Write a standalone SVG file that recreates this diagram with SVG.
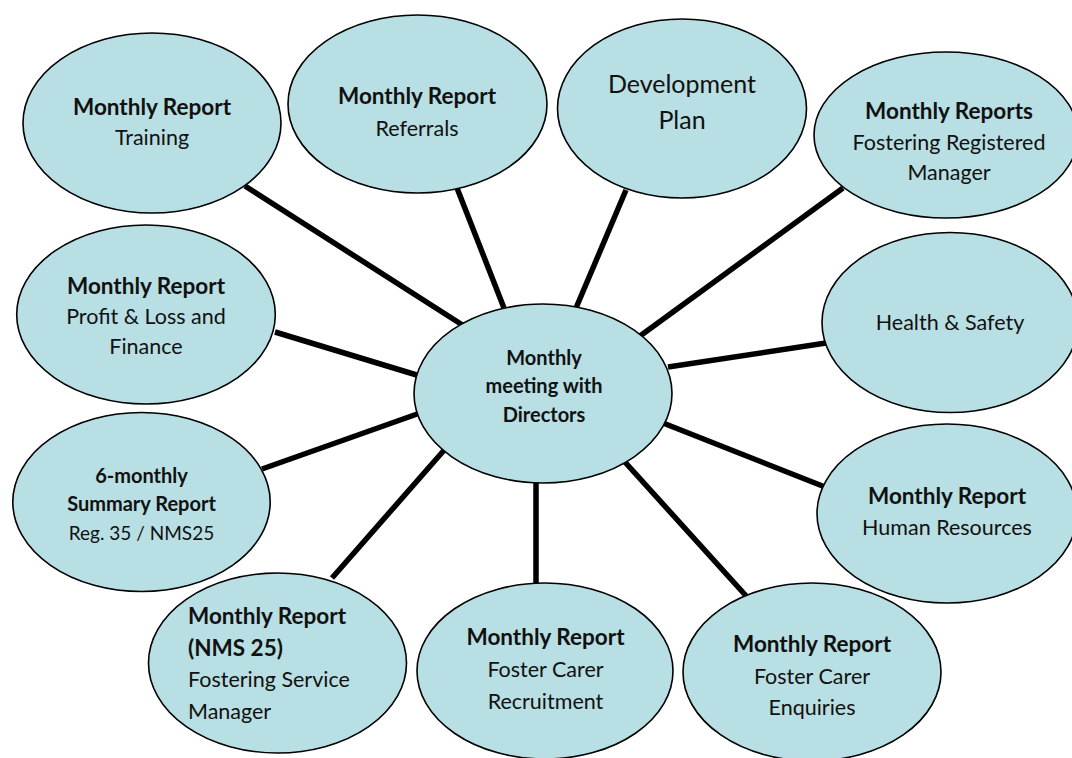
<svg xmlns="http://www.w3.org/2000/svg" width="1072" height="758" viewBox="0 0 1072 758">
<style>
.n{fill:#b8dfe3;stroke:#000;stroke-width:1.6}
.c line{stroke:#000;stroke-width:5.5;stroke-linecap:butt}
text{font-family:Lato,"Liberation Sans",sans-serif;fill:#111;text-anchor:middle}
.r{font-size:21.5px}
.b{font-size:22.5px;font-weight:bold}
.d{font-size:25px}
.m{font-size:20px;font-weight:bold}
.s{font-size:20px;font-weight:bold}
.sr{font-size:19px}
.l{text-anchor:start}
</style>
<rect width="1072" height="758" fill="#fff"/>
<g id="connectors" class="c">
<line x1="245" y1="186" x2="464" y2="326"/>
<line x1="457" y1="188" x2="504" y2="308"/>
<line x1="626" y1="190" x2="576" y2="308"/>
<line x1="843" y1="188" x2="640" y2="336"/>
<line x1="826" y1="343" x2="668" y2="367"/>
<line x1="825" y1="487" x2="663" y2="423"/>
<line x1="748" y1="598" x2="624" y2="461"/>
<line x1="536" y1="480" x2="536" y2="585"/>
<line x1="332" y1="578" x2="446" y2="448"/>
<line x1="262" y1="469" x2="420" y2="413"/>
<line x1="275" y1="332" x2="420" y2="376"/>
</g>
<g id="training">
<ellipse class="n" cx="152" cy="123" rx="129" ry="90"/>
<text class="b" x="152" y="115">Monthly Report</text>
<text class="r" x="152" y="145">Training</text>
</g>
<g id="referrals">
<ellipse class="n" cx="417.5" cy="104" rx="129.5" ry="89"/>
<text class="b" x="417" y="104">Monthly Report</text>
<text class="r" x="417" y="136">Referrals</text>
</g>
<g id="development">
<ellipse class="n" cx="682" cy="108.5" rx="124.5" ry="89.5"/>
<text class="d" x="682" y="93">Development</text>
<text class="d" x="682" y="129">Plan</text>
</g>
<g id="registered-manager">
<ellipse class="n" cx="946" cy="135" rx="132" ry="83"/>
<text class="b" x="949" y="119">Monthly Reports</text>
<text class="r" x="949" y="150">Fostering Registered</text>
<text class="r" x="949" y="180">Manager</text>
</g>
<g id="health-safety">
<ellipse class="n" cx="950" cy="322.5" rx="128" ry="90"/>
<text class="r" x="950" y="330">Health &amp; Safety</text>
</g>
<g id="human-resources">
<ellipse class="n" cx="947" cy="513.5" rx="130" ry="89.5"/>
<text class="b" x="947" y="504">Monthly Report</text>
<text class="r" x="947" y="535">Human Resources</text>
</g>
<g id="enquiries">
<ellipse class="n" cx="812" cy="672" rx="129" ry="89"/>
<text class="b" x="812" y="652">Monthly Report</text>
<text class="r" x="812" y="684">Foster Carer</text>
<text class="r" x="812" y="715">Enquiries</text>
</g>
<g id="recruitment">
<ellipse class="n" cx="545" cy="671" rx="128" ry="88"/>
<text class="b" x="545.5" y="645">Monthly Report</text>
<text class="r" x="545.5" y="677">Foster Carer</text>
<text class="r" x="545.5" y="709">Recruitment</text>
</g>
<g id="service-manager">
<ellipse class="n" cx="277.5" cy="663" rx="129" ry="90"/>
<text class="b l" x="188" y="624">Monthly Report</text>
<text class="b l" x="188" y="656">(NMS 25)</text>
<text class="r l" x="188" y="687">Fostering Service</text>
<text class="r l" x="188" y="719">Manager</text>
</g>
<g id="six-monthly">
<ellipse class="n" cx="141.5" cy="502" rx="128.7" ry="89.5"/>
<text class="s" x="141.5" y="483">6-monthly</text>
<text class="s" x="141.5" y="511">Summary Report</text>
<text class="sr" x="141.5" y="539.5">Reg. 35 / NMS25</text>
</g>
<g id="profit-loss">
<ellipse class="n" cx="146" cy="314.5" rx="129.3" ry="89.5"/>
<text class="b" x="146" y="294">Monthly Report</text>
<text class="r" x="146" y="324">Profit &amp; Loss and</text>
<text class="r" x="146" y="354">Finance</text>
</g>
<g id="directors-meeting">
<ellipse class="n" cx="543" cy="393.5" rx="129" ry="89.5"/>
<text class="m" x="544" y="365">Monthly</text>
<text class="m" x="544" y="393">meeting with</text>
<text class="m" x="544" y="422">Directors</text>
</g>
</svg>
